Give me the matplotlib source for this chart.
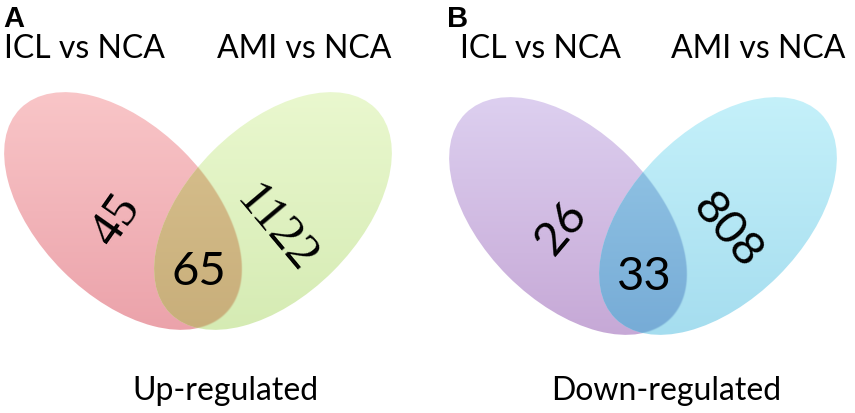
import numpy as np
import matplotlib
matplotlib.use('Agg')
import matplotlib.pyplot as plt
from matplotlib.patches import Ellipse
from matplotlib.colors import to_rgb

# ---- data ----
panels = ['A', 'B']
set_labels = ['ICL vs NCA', 'AMI vs NCA']
regulation = ['Up-regulated', 'Down-regulated']
only_icl = [45, 26]
shared = [65, 33]
only_ami = [1122, 808]

# ---- styles ----
left_cols = [('#f9c6c8', '#eba2aa'), ('#ddd0f0', '#c6a8d6')]
right_cols = [('#eaf8cf', '#d5ebb3'), ('#c5f1fa', '#a5ddef')]
lens_cols = [('#dac391', '#c8ae7a'), ('#98cae8', '#76abd6')]
num_fonts = ['Liberation Serif', 'Lato']
offsets = [(0, 0), (445, 5)]

A_SEMI, B_SEMI = 145, 85

fig = plt.figure(figsize=(8.55, 4.14), dpi=100)
ax = fig.add_axes([0, 0, 1, 1])
ax.set_xlim(0, 855)
ax.set_ylim(414, 0)
ax.axis('off')


def inside_val(X, Y, cx, cy, ang):
    t = np.deg2rad(ang)
    dx, dy = X - cx, Y - cy
    u = dx * np.cos(t) + dy * np.sin(t)
    v = -dx * np.sin(t) + dy * np.cos(t)
    return np.sqrt((u / A_SEMI) ** 2 + (v / B_SEMI) ** 2)


def grad_img(c_top, c_bot, cx, cy, clip, mask_ell=None):
    H = 122
    x0, x1, y0, y1 = cx - H, cx + H, cy - H, cy + H
    n = 500
    ys = np.linspace(y0, y1, n)
    xs = np.linspace(x0, x1, n)
    X, Y = np.meshgrid(xs, ys)
    t = ((Y - y0) / (y1 - y0))[..., None]
    top = np.array(to_rgb(c_top))
    bot = np.array(to_rgb(c_bot))
    rgb = top * (1 - t) + bot * t
    alpha = np.ones(X.shape)
    if mask_ell is not None:
        f = inside_val(X, Y, *mask_ell)
        alpha = np.clip(0.5 + (1 - f) * 90, 0, 1)
    img = np.dstack([rgb, alpha[..., None]])
    im = ax.imshow(img, extent=(x0, x1, y1, y0), origin='upper',
                   interpolation='bilinear', zorder=1)
    im.set_clip_path(clip)


for i in range(2):
    ox, oy = offsets[i]
    lcx, lcy = 123 + ox, 212 + oy
    rcx, rcy = 273 + ox, 212 + oy
    e1 = Ellipse((lcx, lcy), 2 * A_SEMI, 2 * B_SEMI, angle=45,
                 facecolor='none', edgecolor='none')
    e2 = Ellipse((rcx, rcy), 2 * A_SEMI, 2 * B_SEMI, angle=-45,
                 facecolor='none', edgecolor='none')
    ax.add_patch(e1)
    ax.add_patch(e2)
    grad_img(*left_cols[i], lcx, lcy, e1)
    grad_img(*right_cols[i], rcx, rcy, e2)
    grad_img(*lens_cols[i], rcx, rcy, e2, mask_ell=(lcx, lcy, 45))

    # panel letter
    ax.text(3 + ox - (1 if i else 0), 27, panels[i], fontsize=21,
            fontweight='bold', family='Liberation Sans',
            ha='left', va='baseline', zorder=5)
    # set labels
    ax.text(84 + ox + (11 if i else 0), 58, set_labels[0], fontsize=23,
            family='Lato', ha='center', va='baseline', zorder=5)
    ax.text(304 + ox + (9 if i else 0), 58, set_labels[1], fontsize=23,
            family='Lato', ha='center', va='baseline', zorder=5)
    # regulation label
    ax.text(225 + ox - (4 if i else 0), 400, regulation[i], fontsize=23,
            family='Lato', ha='center', va='baseline', zorder=5)

    # counts
    fam = num_fonts[i]
    ax.text(117 + ox - 1, 220 + oy + (3 if i else 0), str(only_icl[i]),
            fontsize=36 if i == 0 else 34, family=fam,
            rotation=55 if i == 0 else 50, rotation_mode='anchor',
            ha='center', va='center', zorder=5)
    ax.text(199 + ox, 272 + oy, str(shared[i]), fontsize=34,
            family='Lato', ha='center', va='center', zorder=5)
    ax.text(276 + ox + (6 if i else 0), 230 + oy - (4 if i else 0),
            str(only_ami[i]),
            fontsize=36 if i == 0 else 34, family=fam,
            rotation=-50, rotation_mode='anchor',
            ha='center', va='center', zorder=5)

fig.savefig('out.png', dpi=100)
